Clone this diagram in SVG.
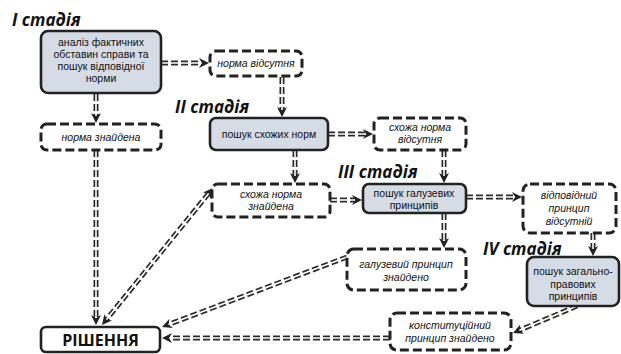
<svg xmlns="http://www.w3.org/2000/svg" width="621" height="354" viewBox="0 0 621 354">
<style>
.bg{fill:#ffffff}
.solid{fill:#d6dce5;stroke:#222;stroke-width:2.6}
.res{fill:#ffffff;stroke:#222;stroke-width:2.6}
.dash{fill:#ffffff;stroke:#222;stroke-width:3;stroke-dasharray:9 4}
.t{font-family:"Liberation Sans",Arial,sans-serif;font-size:10.5px;fill:#111;text-anchor:middle}
.ti{font-family:"Liberation Sans",Arial,sans-serif;font-size:10.5px;font-style:italic;fill:#111;text-anchor:middle}
.st{font-family:"Open Sans","Noto Sans",sans-serif;font-size:17px;font-style:italic;font-weight:bold;fill:#111}
.rt{font-family:"Open Sans","Noto Sans",sans-serif;font-size:16px;font-weight:bold;fill:#111;text-anchor:middle}
.dk{fill:none;stroke:#2a2a2a;stroke-width:5;stroke-dasharray:7 3;marker-end:url(#ah)}
.dk2{marker-start:url(#ah)}
.wt{fill:none;stroke:#ffffff;stroke-width:1.6}
</style>
<defs>
<marker id="ah" viewBox="0 0 10 10" refX="3" refY="5" markerWidth="10" markerHeight="10" markerUnits="userSpaceOnUse" orient="auto-start-reverse">
<path d="M0,0 L10,5 L0,10 L3,5 z" fill="#222"/>
</marker>
</defs>
<rect class="bg" x="0" y="0" width="621" height="354"/>

<g id="stages">
<text class="st" x="12" y="26">I стадія</text>
<text class="st" x="175" y="113">II стадія</text>
<text class="st" x="338" y="178">III стадія</text>
<text class="st" x="483" y="255">IV стадія</text>
</g>

<g id="connectors">
<path class="dk" d="M161,63 L202,63"/><path class="wt" d="M161,63 L202,63"/>
<path class="dk" d="M96,94 L96,116"/><path class="wt" d="M96,94 L96,116"/>
<path class="dk" d="M282,77 L282,110"/><path class="wt" d="M282,77 L282,110"/>
<path class="dk" d="M96,150 L96,318"/><path class="wt" d="M96,150 L96,318"/>
<path class="dk" d="M328,134 L366,134"/><path class="wt" d="M328,134 L366,134"/>
<path class="dk" d="M295,150 L295,176"/><path class="wt" d="M295,150 L295,176"/>
<path class="dk" d="M444,150 L444,176"/><path class="wt" d="M444,150 L444,176"/>
<path class="dk dk2" d="M208.6,193.4 L106.4,319.6"/><path class="wt" d="M208.6,193.4 L106.4,319.6"/>
<path class="dk" d="M330,200 L355,200"/><path class="wt" d="M330,200 L355,200"/>
<path class="dk" d="M466,197 L515,197"/><path class="wt" d="M466,197 L515,197"/>
<path class="dk" d="M444,213 L444,241"/><path class="wt" d="M444,213 L444,241"/>
<path class="dk" d="M593,233 L593,249"/><path class="wt" d="M593,233 L593,249"/>
<path class="dk" d="M347,257 L168.5,324.5"/><path class="wt" d="M347,257 L168.5,324.5"/>
<path class="dk" d="M577,306 L519.4,330.3"/><path class="wt" d="M577,306 L519.4,330.3"/>
<path class="dk" d="M390,338 L169,338"/><path class="wt" d="M390,338 L169,338"/>
</g>

<g id="n1">
<rect class="solid" x="41" y="31" width="120" height="62" rx="7"/>
<text class="t" x="101" y="46">аналіз фактичних</text>
<text class="t" x="101" y="58">обставин справи та</text>
<text class="t" x="101" y="70">пошук відповідної</text>
<text class="t" x="101" y="82">норми</text>
</g>
<g id="n2">
<rect class="dash" x="210" y="51" width="92" height="25" rx="6"/>
<text class="ti" x="256" y="67">норма відсутня</text>
</g>
<g id="n3">
<rect class="dash" x="41" y="124" width="120" height="26" rx="6"/>
<text class="ti" x="101" y="141">норма знайдена</text>
</g>
<g id="n4">
<rect class="solid" x="210" y="118" width="118" height="32" rx="6"/>
<text class="t" x="269" y="138">пошук схожих норм</text>
</g>
<g id="n5">
<rect class="dash" x="374" y="118" width="92" height="32" rx="6"/>
<text class="ti" x="420" y="131">схожа норма</text>
<text class="ti" x="420" y="143">відсутня</text>
</g>
<g id="n6">
<rect class="dash" x="212" y="184" width="118" height="33" rx="6"/>
<text class="ti" x="271" y="198">схожа норма</text>
<text class="ti" x="271" y="210">знайдена</text>
</g>
<g id="n7">
<rect class="solid" x="363" y="184" width="103" height="29" rx="6"/>
<text class="t" x="414" y="197">пошук галузевих</text>
<text class="t" x="414" y="209">принципів</text>
</g>
<g id="n8">
<rect class="dash" x="523" y="184" width="93" height="49" rx="7"/>
<text class="ti" x="569" y="199">відповідний</text>
<text class="ti" x="569" y="212">принцип</text>
<text class="ti" x="569" y="225">відсутній</text>
</g>
<g id="n9">
<rect class="solid" x="527" y="257" width="92" height="49" rx="7"/>
<text class="t" x="573" y="275">пошук загально-</text>
<text class="t" x="573" y="288">правових</text>
<text class="t" x="573" y="300">принципів</text>
</g>
<g id="n10">
<rect class="dash" x="347" y="249" width="119" height="41" rx="7"/>
<text class="ti" x="406" y="268">галузевий принцип</text>
<text class="ti" x="406" y="281">знайдено</text>
</g>
<g id="n11">
<rect class="dash" x="390" y="313" width="121" height="37" rx="7"/>
<text class="ti" x="450" y="329">конституційний</text>
<text class="ti" x="450" y="342">принцип знайдено</text>
</g>
<g id="n12">
<rect class="res" x="41" y="327" width="119" height="25" rx="5"/>
<text class="rt" x="100.5" y="346">РІШЕННЯ</text>
</g>
</svg>
